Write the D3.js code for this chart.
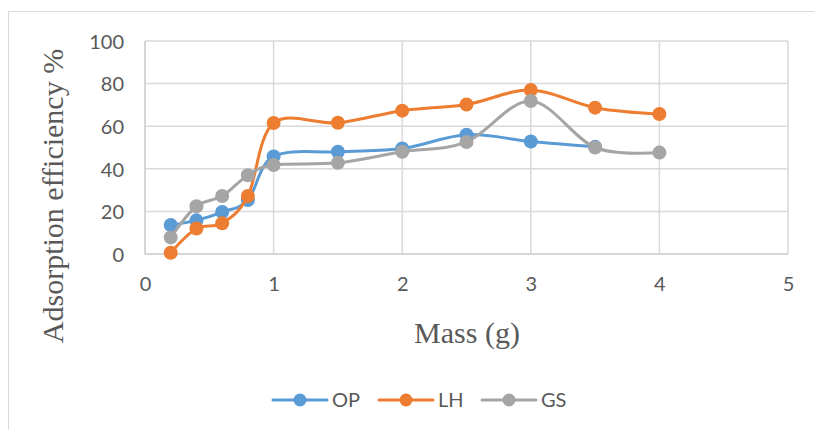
<!DOCTYPE html>
<html>
<head>
<meta charset="utf-8">
<script src="https://cdn.jsdelivr.net/npm/d3@7"></script>
<style>
  html, body { margin: 0; padding: 0; background: #fff; }
  svg { display: block; }
</style>
</head>
<body>
<svg id="chart" width="814" height="430"></svg>
<script>
// Adsorption efficiency vs adsorbent mass for three adsorbents
const massOP = [0.2, 0.4, 0.6, 0.8, 1, 1.5, 2, 2.5, 3, 3.5];
const valuesOP = [13.6, 15.8, 19.7, 25.3, 45.8, 48, 49.5, 56, 52.8, 50.3];

const massLH = [0.2, 0.4, 0.6, 0.8, 1, 1.5, 2, 2.5, 3, 3.5, 4];
const valuesLH = [0.6, 12, 14.4, 27.2, 61.5, 61.6, 67.3, 70.2, 77, 68.7, 65.7];

const massGS = [0.2, 0.4, 0.6, 0.8, 1, 1.5, 2, 2.5, 3, 3.5, 4];
const valuesGS = [7.8, 22.4, 27.2, 37, 41.8, 42.8, 48, 52.6, 71.8, 50, 47.6];

const seriesNames = ["OP", "LH", "GS"];
const seriesColors = ["#5b9bd5", "#ed7d31", "#a5a5a5"];
const xTicks = [0, 1, 2, 3, 4, 5];
const yTicks = [0, 20, 40, 60, 80, 100];

const series = [
  { name: seriesNames[0], color: seriesColors[0], pts: massOP.map((m, i) => [m, valuesOP[i]]) },
  { name: seriesNames[1], color: seriesColors[1], pts: massLH.map((m, i) => [m, valuesLH[i]]) },
  { name: seriesNames[2], color: seriesColors[2], pts: massGS.map((m, i) => [m, valuesGS[i]]) }
];

const svg = d3.select("#chart");
const W = 814, H = 430;
const plot = { left: 145, right: 788, top: 41, bottom: 254 };

const x = d3.scaleLinear().domain([0, 5]).range([plot.left, plot.right]);
const y = d3.scaleLinear().domain([0, 100]).range([plot.bottom, plot.top]);

const sans = "Lato, 'Open Sans', sans-serif";
const serif = "'Liberation Serif', 'Times New Roman', serif";
const textGrey = "#595959";

// outer chart frame
svg.append("rect")
  .attr("x", 8.5).attr("y", 11.5)
  .attr("width", W + 20).attr("height", H + 20)
  .attr("fill", "#fff").attr("stroke", "#d9d9d9").attr("stroke-width", 1);

// horizontal gridlines
svg.append("g")
  .selectAll("line").data(yTicks).join("line")
  .attr("x1", plot.left).attr("x2", plot.right)
  .attr("y1", d => y(d)).attr("y2", d => y(d))
  .attr("stroke", d => d === 0 ? "#c8c8c8" : "#d9d9d9")
  .attr("stroke-width", 1.5);

// vertical gridlines
svg.append("g")
  .selectAll("line").data(xTicks).join("line")
  .attr("x1", d => x(d)).attr("x2", d => x(d))
  .attr("y1", plot.top).attr("y2", plot.bottom)
  .attr("stroke", d => d === 0 ? "#c8c8c8" : "#d9d9d9")
  .attr("stroke-width", 1.5);

// y axis labels
const yAxis = d3.axisLeft(y).tickValues(yTicks).tickFormat(d3.format("d")).tickSize(0).tickPadding(0);
const gy = svg.append("g").attr("transform", `translate(${plot.left - 21},0)`).call(yAxis);
gy.select(".domain").remove();
gy.selectAll("text")
  .attr("font-family", sans).attr("font-size", 20).attr("fill", textGrey)
  .attr("dy", "0.36em");

// x axis labels
const xAxis = d3.axisBottom(x).tickValues(xTicks).tickFormat(d3.format("d")).tickSize(0).tickPadding(0);
const gx = svg.append("g").attr("transform", `translate(0,${plot.bottom + 23})`).call(xAxis);
gx.select(".domain").remove();
gx.selectAll("text")
  .attr("font-family", sans).attr("font-size", 20).attr("fill", textGrey)
  .attr("dy", "0.72em");

// axis titles
svg.append("text")
  .attr("x", 467).attr("y", 343)
  .attr("text-anchor", "middle")
  .attr("font-family", serif).attr("font-size", 30).attr("fill", textGrey)
  .text("Mass (g)");

svg.append("text")
  .attr("transform", "translate(63,196) rotate(-90)")
  .attr("text-anchor", "middle")
  .attr("font-family", serif).attr("font-size", 30).attr("fill", textGrey)
  .text("Adsorption efficiency %");

// smoothed series lines and markers
const line = d3.line()
  .x(d => x(d[0])).y(d => y(d[1]))
  .curve(d3.curveCardinal.tension(0));

const gSeries = svg.append("g");
series.forEach(s => {
  const g = gSeries.append("g");
  g.append("path")
    .attr("d", line(s.pts))
    .attr("fill", "none")
    .attr("stroke", s.color)
    .attr("stroke-width", 3)
    .attr("stroke-linejoin", "round")
    .attr("stroke-linecap", "round");
  g.selectAll("circle").data(s.pts).join("circle")
    .attr("cx", d => x(d[0])).attr("cy", d => y(d[1]))
    .attr("r", 7)
    .attr("fill", s.color);
});

// legend
const legendX = [273, 379, 482];
const legend = svg.append("g");
series.forEach((s, i) => {
  const lx = legendX[i], ly = 400;
  legend.append("line")
    .attr("x1", lx).attr("x2", lx + 54)
    .attr("y1", ly).attr("y2", ly)
    .attr("stroke", s.color).attr("stroke-width", 3)
    .attr("stroke-linecap", "round");
  legend.append("circle")
    .attr("cx", lx + 27).attr("cy", ly).attr("r", 6.5).attr("fill", s.color);
  legend.append("text")
    .attr("x", lx + 59).attr("y", ly)
    .attr("dy", "0.36em")
    .attr("font-family", sans).attr("font-size", 20).attr("fill", textGrey)
    .text(s.name);
});
</script>
</body>
</html>
